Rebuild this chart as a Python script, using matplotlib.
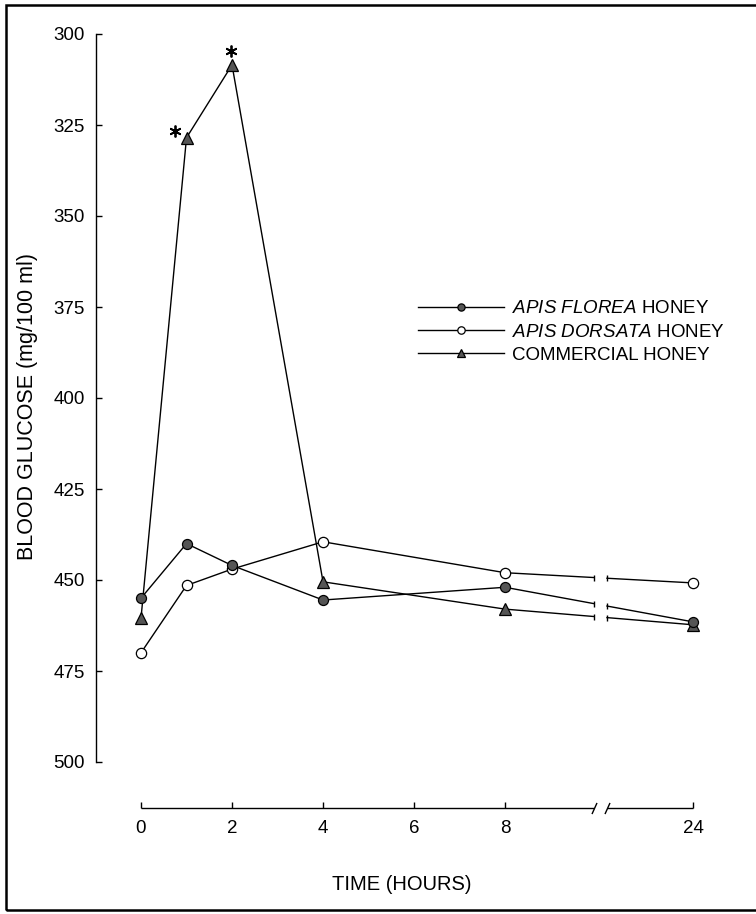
import numpy as np
import matplotlib
matplotlib.use("Agg")
import matplotlib.pyplot as plt
import matplotlib.transforms as mtransforms
from matplotlib.lines import Line2D
from matplotlib.patches import Rectangle

# ---------------- data ----------------
hours = [0, 1, 2, 4, 8, 24]
florea = [455, 440, 446, 455.5, 452, 461.5]
dorsata = [470, 451.5, 447, 439.5, 448, 450.8]
commercial = [460.5, 328.5, 308.5, 450.5, 458, 462.3]
significant_hours = [1, 2]          # commercial honey points marked with *
x_ticks = [0, 2, 4, 6, 8, 24]
x_tick_labels = ["0", "2", "4", "6", "8", "24"]
y_ticks = [300, 325, 350, 375, 400, 425, 450, 475, 500]
series_labels = [r"$\mathit{APIS\ FLOREA}$ HONEY",
                 r"$\mathit{APIS\ DORSATA}$ HONEY",
                 "COMMERCIAL HONEY"]
x_label = "TIME (HOURS)"
y_label = "BLOOD GLUCOSE (mg/100 ml)"

# ---------------- style ----------------
plt.rcParams['font.family'] = ['Liberation Sans', 'DejaVu Sans']
plt.rcParams['mathtext.fontset'] = 'custom'
plt.rcParams['mathtext.it'] = 'Liberation Sans:italic'
plt.rcParams['mathtext.rm'] = 'Liberation Sans'
plt.rcParams['mathtext.bf'] = 'Liberation Sans:bold'

W, H = 756, 914
fig = plt.figure(figsize=(W / 100, H / 100), dpi=100)
ax = fig.add_axes([141 / W, 1 - 762 / H, 552 / W, 728 / H])

# broken time axis: 0-8 h linear, 8-24 h compressed
POS24 = 12.13
K = (POS24 - 8) / 16.0


def fwd(h):
    h = np.asarray(h, dtype=float)
    return np.where(h <= 8, h, 8 + (h - 8) * K)


def inv(p):
    p = np.asarray(p, dtype=float)
    return np.where(p <= 8, p, 8 + (p - 8) / K)


ax.set_xscale('function', functions=(fwd, inv))
ax.set_xlim(0, 24)
ax.set_ylim(500, 300)
BREAK_LO = float(inv(9.96))
BREAK_HI = float(inv(10.24))

styles = [
    dict(marker='o', mfc='#555555', ms=7.2, z=5),   # florea
    dict(marker='o', mfc='white', ms=7.4, z=3),     # dorsata
    dict(marker='^', mfc='#555555', ms=8.0, z=4),   # commercial
]
series = [florea, dorsata, commercial]

handles = []
for vals, st in zip(series, styles):
    v = np.asarray(vals, dtype=float)
    h = np.asarray(hours, dtype=float)
    y_lo = np.interp(BREAK_LO, h, v)
    y_hi = np.interp(BREAK_HI, h, v)
    left = h <= 8
    ax.plot(list(h[left]) + [BREAK_LO], list(v[left]) + [y_lo],
            color='k', lw=1.0, zorder=2, clip_on=False)
    ax.plot([BREAK_HI] + list(h[~left]), [y_hi] + list(v[~left]),
            color='k', lw=1.0, zorder=2, clip_on=False)
    ax.plot([BREAK_LO, BREAK_HI], [y_lo, y_hi], ls='none', marker='|',
            ms=4.5, mew=1.0, color='k', zorder=2, clip_on=False)
    ax.plot(h, v, ls='none', marker=st['marker'], ms=st['ms'],
            mfc=st['mfc'], mec='k', mew=0.9, zorder=st['z'], clip_on=False)
    handles.append(Line2D([], [], color='k', lw=1.0, marker=st['marker'],
                          ms=st['ms'] * 0.72, mfc=st['mfc'], mec='k', mew=0.9))

# significance asterisks
STAR_OFFSETS = [(-8.5, 4.5), (-0.7, 10.0)]
for sh, (dx, dy) in zip(significant_hours, STAR_OFFSETS):
    tr = mtransforms.offset_copy(ax.transData, fig=fig, x=dx, y=dy, units='points')
    ax.plot([sh], [commercial[hours.index(sh)]], ls='none', marker=(6, 2, 0),
            ms=8.5, mew=1.3, color='k', transform=tr, clip_on=False, zorder=6)

# axes / spines
OUT_L = 32.4
OUT_B = 33.1
for s in ('top', 'right'):
    ax.spines[s].set_visible(False)
ax.spines['left'].set_position(('outward', OUT_L))
ax.spines['left'].set_linewidth(1.0)
ax.spines['bottom'].set_position(('outward', OUT_B))
ax.spines['bottom'].set_visible(False)

ax.set_xticks(x_ticks)
ax.set_xticklabels(x_tick_labels)
ax.set_yticks(y_ticks)
ax.minorticks_off()
ax.tick_params(axis='both', direction='in', length=4.5, width=1.0,
               labelsize=13.5, color='k')
ax.tick_params(axis='y', pad=8)
ax.tick_params(axis='x', pad=9)

# bottom axis line with break
t_spine = ax.get_xaxis_transform() + mtransforms.ScaledTranslation(
    0, -OUT_B / 72.0, fig.dpi_scale_trans)
ax.plot([0, BREAK_LO], [0, 0], transform=t_spine, color='k', lw=1.0,
        clip_on=False, solid_capstyle='butt')
ax.plot([BREAK_HI, 24], [0, 0], transform=t_spine, color='k', lw=1.0,
        clip_on=False, solid_capstyle='butt')
ax.plot([BREAK_LO, BREAK_HI], [0, 0], transform=t_spine, ls='none',
        marker=[(-0.45, -1.0), (0.45, 1.0)], ms=8, mew=1.0, color='k',
        clip_on=False)

# labels
ax.set_xlabel(x_label, fontsize=14.5, va='center')
ax.xaxis.set_label_coords((402 - 141) / 552, (762 - 885) / 728)
ax.set_ylabel(y_label, fontsize=15.5, va='center')
ax.yaxis.set_label_coords((28 - 141) / 552, (762 - 407) / 728)

# legend
ax.legend(handles, series_labels, loc='center left',
          bbox_to_anchor=(418 / W, 1 - 332 / H), bbox_transform=fig.transFigure,
          frameon=False, fontsize=13.5, handlelength=4.6, handletextpad=0.4,
          labelspacing=0.33, borderpad=0, borderaxespad=0, numpoints=1)

# outer frame (right edge lies off the page)
fig.add_artist(Rectangle((6 / W, 1 - 910 / H), 1.0, (910 - 5) / H,
                         transform=fig.transFigure, fill=False,
                         lw=1.8, edgecolor='k'))

fig.savefig("out.png", dpi=100)
